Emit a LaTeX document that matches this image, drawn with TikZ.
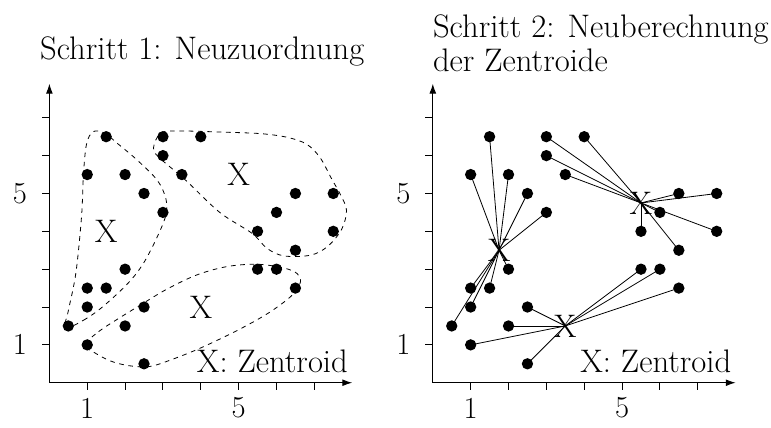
\documentclass[tikz,border=0pt]{standalone}
\usetikzlibrary{arrows.meta}
\tikzset{
  dot/.style={circle,fill,inner sep=0pt,minimum size=0.3cm},
  axis/.style={line width=0.7pt,-{Latex[length=2.6mm,width=1.8mm]}},
  tickmark/.style={line width=0.7pt},
  cluster/.style={dash pattern=on 3.5pt off 3.5pt,line width=0.6pt},
  ray/.style={line width=0.6pt},
  ticklabel/.style={font=\fontsize{23}{28}\selectfont},
  every node/.style={font=\fontsize{24.5}{29}\selectfont}
}
\begin{document}
\begin{tikzpicture}
\useasboundingbox (-1.305,-1.195) rectangle (19.065,10.112);
% both panels: axes, ticks, points
\foreach \s/\p in {0/l,10.13/r}{
  \begin{scope}[xshift=\s cm]
    \coordinate (o\p) at (0,0);
    \coordinate (xe\p) at (8,0);
    \coordinate (ye\p) at (0,7.9);
    \draw[axis] (o\p) -- (xe\p);
    \draw[axis] (o\p) -- (ye\p);
    \foreach \t in {1,...,7}{
      \draw[tickmark] (\t,0) -- (\t,-0.2);
      \draw[tickmark] (0,\t) -- (-0.2,\t);
    }
    \node[ticklabel] (xa\p) at (1,-0.67) {1};
    \node[ticklabel] (xb\p) at (5,-0.67) {5};
    \node[ticklabel] (ya\p) at (-0.78,1) {1};
    \node[ticklabel] (yb\p) at (-0.78,5) {5};
    \foreach \x/\y [count=\i] in {1.5/6.5,1/5.5,2/5.5,2.5/5,3/4.5,2/3,1/2.5,1.5/2.5,1/2,0.5/1.5,
        3/6.5,4/6.5,3/6,3.5/5.5,6.5/5,7.5/5,6/4.5,5.5/4,7.5/4,6.5/3.5,
        2.5/2,2/1.5,1/1,2.5/0.5,5.5/3,6/3,6.5/2.5}
      \node[dot] (\p\i) at (\x,\y) {};
    \node[anchor=base east,inner sep=0pt] (key\p) at (7.89,0.27) {X: Zentroid};
  \end{scope}
}
% Schritt 1
\node[anchor=base west,inner sep=0pt] (title1) at (-0.25,8.55) {Schritt 1: Neuzuordnung};
\draw[cluster] plot[smooth cycle,tension=0.55] coordinates {(0.42,1.45) (0.9,1.65) (1.4,2.0) (2.05,2.6) (2.45,3.1) (2.8,3.75) (3.07,4.4) (3.08,4.85) (2.85,5.35) (2.3,5.9) (1.8,6.32) (1.45,6.6) (1.15,6.63) (0.98,6.3) (0.9,5.5) (0.85,4.4) (0.7,2.9) (0.5,1.9)};
\draw[cluster] plot[smooth cycle,tension=0.55] coordinates {(2.75,6.2) (2.95,6.6) (3.5,6.65) (4.6,6.62) (5.6,6.58) (6.3,6.48) (6.8,6.3) (7.15,5.95) (7.45,5.4) (7.7,4.95) (7.85,4.55) (7.72,4.05) (7.35,3.6) (6.9,3.37) (6.2,3.35) (5.75,3.55) (5.35,3.95) (4.5,4.5) (3.6,5.35) (2.9,5.95)};
\draw[cluster] plot[smooth cycle,tension=0.55] coordinates {(0.93,1.0) (1.3,1.35) (1.8,1.68) (2.4,2.05) (3.1,2.47) (3.9,2.85) (4.7,3.07) (5.5,3.13) (6.2,3.03) (6.55,2.88) (6.63,2.65) (6.4,2.3) (5.8,1.85) (5.0,1.4) (4.0,0.92) (3.2,0.6) (2.65,0.43) (2.1,0.45) (1.6,0.58) (1.15,0.82)};
\node (za) at (1.5,4) {X};
\node (zb) at (5,5.5) {X};
\node (zc) at (4,2) {X};
% Schritt 2
\begin{scope}[xshift=10.13cm]
  \node[anchor=base west,inner sep=0pt] (title2a) at (0,9.13) {Schritt 2: Neuberechnung};
  \node[anchor=base west,inner sep=0pt] (title2b) at (0,8.21) {der Zentroide};
  \node (ca) at (1.75,3.5) {X};
  \node (cb) at (5.5,4.75) {X};
  \node (cc) at (3.5,1.5) {X};
\end{scope}
\foreach \i in {1,...,10} \draw[ray] (ca.center) -- (r\i.center);
\foreach \i in {11,...,20} \draw[ray] (cb.center) -- (r\i.center);
\foreach \i in {21,...,27} \draw[ray] (cc.center) -- (r\i.center);
\end{tikzpicture}
\end{document}
